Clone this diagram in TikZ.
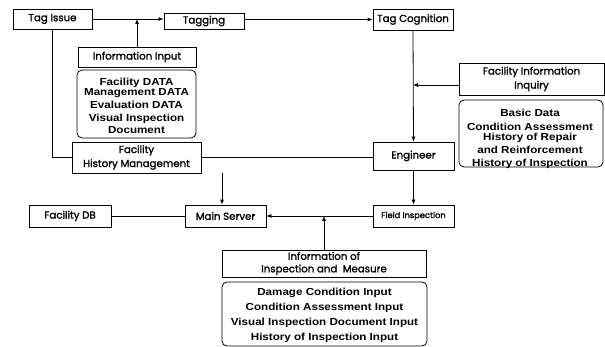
\documentclass[tikz,border=0pt]{standalone}
\usepackage{fontspec}
\setmainfont[FakeBold=1.6]{Poppins}
\newfontfamily\bfont[FakeStretch=1.14]{Liberation Sans}
\usetikzlibrary{arrows.meta}
\begin{document}
\begin{tikzpicture}[x=1pt,y=-1pt,
 box/.style={draw, line width=0.8pt, inner sep=0pt, font=\fontsize{10.2}{14}\selectfont, align=center},
 rbox/.style={draw, line width=0.8pt, rounded corners=5pt, inner sep=0pt},
 rtext/.style={font=\bfont\bfseries\fontsize{10.2}{12.5}\selectfont, align=center, inner sep=0pt},
 conn/.style={line width=0.8pt},
 arr/.style={conn, -{Latex[length=5pt,width=4pt]}}]
\useasboundingbox (0,0) rectangle (605,347);
% boxes
\node[box, minimum width=79pt, minimum height=20pt] (tagissue) at (52.5,19) {Tag Issue};
\node[box, minimum width=80pt, minimum height=16pt] (tagging) at (204,21) {Tagging};
\node[box, minimum width=80pt, minimum height=21pt] (tagcog) at (413,19.5) {Tag Cognition};
\node[box, minimum width=118pt, minimum height=20pt] (infoinput) at (137,57) {Information Input};
\node[rbox, minimum width=119pt, minimum height=68pt] (leftround) at (136.5,104) {};
\node[rtext] (lefttext) at (136.5,106) {Facility DATA\\[-3pt]Management DATA\\[1pt]Evaluation DATA\\Visual Inspection\\Document};
\node[box, minimum width=129pt, minimum height=31pt] (fhm) at (136.5,157.5) {Facility\\History Management};
\node[box, minimum width=145pt, minimum height=32pt] (fii) at (531.5,79) {Facility Information\\Inquiry};
\node[rbox, minimum width=144pt, minimum height=67pt] (rightround) at (531,133.5) {};
\node[rtext] (righttext) at (530,139) {Basic Data\\[1pt]Condition Assessment\\[-2pt]History of Repair\\[0.5pt]and Reinforcement\\History of Inspection};
\node[box, minimum width=81pt, minimum height=28pt] (engineer) at (413.5,156) {Engineer};
\node[box, minimum width=81pt, minimum height=22pt, font=\fontsize{8.3}{10}\selectfont] (fieldinsp) at (413.5,216) {Field Inspection};
\node[box, minimum width=81pt, minimum height=22pt] (mainserver) at (225.5,216) {Main Server};
\node[box, minimum width=82pt, minimum height=22pt] (facilitydb) at (70,216) {Facility DB};
\node[box, minimum width=204pt, minimum height=27pt, font=\fontsize{10.2}{12.5}\selectfont] (iim) at (324,263.5) {Information of\\Inspection and\ \ Measure};
\node[rbox, minimum width=205pt, minimum height=64pt] (bottomround) at (324.5,314) {};
\node[rtext, font=\bfont\bfseries\fontsize{10.2}{15}\selectfont] (bottomtext) at (324.5,315) {Damage Condition Input\\Condition Assessment Input\\Visual Inspection Document Input\\History of Inspection Input};
% connectors
\draw[arr] (tagissue.east) -- (tagissue.east -| tagging.west);
\draw[arr] (infoinput.north) -- (infoinput.north |- tagissue.east);
\draw[arr] (tagging.east |- tagcog.west) -- (tagcog.west);
\draw[arr] (tagcog.south) -- (engineer.north);
\draw[arr] ([yshift=-6pt]fii.west) -- ([yshift=-6pt]fii.west -| tagcog.south);
\draw[arr] (engineer.south) -- (fieldinsp.north);
\draw[conn] (tagissue.south) |- (fhm.west);
\draw[conn] (fhm.east) -- (fhm.east -| engineer.west);
\draw[arr] ([xshift=-3.5pt]mainserver.north |- fhm.south) -- ([xshift=-3.5pt]mainserver.north);
\draw[conn] (facilitydb.east) -- (mainserver.west);
\draw[arr] (fieldinsp.west) -- (mainserver.east);
\draw[arr] (iim.north) -- (iim.north |- fieldinsp.west);
\end{tikzpicture}
\end{document}
